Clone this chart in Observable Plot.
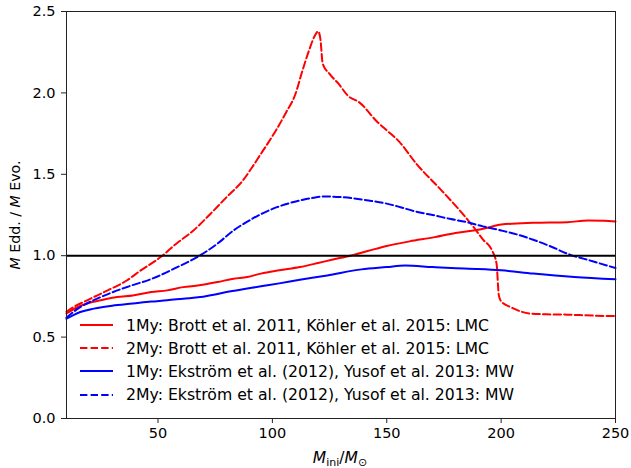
<!DOCTYPE html>
<html>
<head>
<meta charset="utf-8">
<script src="https://cdn.jsdelivr.net/npm/d3@7"></script>
<script src="https://cdn.jsdelivr.net/npm/@observablehq/plot@0.6"></script>
<style>
  body { margin: 0; background: #fff; }
  #wrap { position: relative; width: 631px; height: 468px; font-family: "DejaVu Sans", sans-serif; }
  #legend { position: absolute; left: 80px; top: 313.5px; font-size: 15.7px; color: #000; font-family: "DejaVu Sans"; }
  #legend .row { display: flex; align-items: center; height: 23.2px; white-space: nowrap; }
  #legend svg { margin-right: 13px; flex: none; }
</style>
</head>
<body>
<div id="wrap"></div>
<script>
// 1My: Brott et al. 2011, Köhler et al. 2015: LMC
const lmc1X = [10, 15, 19, 25, 32, 39, 47, 54, 61, 68, 76, 83, 89, 95, 103, 112, 120, 126, 134, 142, 150, 160, 171, 180, 188, 195, 200, 214, 229, 238, 245, 250];
const lmc1Y = [0.645, 0.685, 0.706, 0.726, 0.746, 0.756, 0.777, 0.787, 0.807, 0.818, 0.838, 0.859, 0.869, 0.89, 0.91, 0.93, 0.955, 0.975, 1.0, 1.03, 1.06, 1.088, 1.114, 1.14, 1.155, 1.175, 1.192, 1.202, 1.206, 1.216, 1.215, 1.21];
// 2My: Brott et al. 2011, Köhler et al. 2015: LMC
const lmc2X = [10, 12, 19, 28, 36.5, 42, 51, 58, 65.5, 73, 80, 87, 91, 95, 98, 102, 106, 110, 113, 116, 118.5, 120, 121, 122, 125, 129, 133, 138, 146, 150, 155, 163, 174, 182, 188, 192, 196, 198, 199, 200, 204, 208, 213, 220, 229, 240, 250];
const lmc2Y = [0.655, 0.675, 0.726, 0.787, 0.849, 0.905, 0.99, 1.074, 1.155, 1.258, 1.36, 1.46, 1.54, 1.626, 1.69, 1.78, 1.88, 1.99, 2.13, 2.26, 2.35, 2.378, 2.33, 2.18, 2.117, 2.055, 1.983, 1.942, 1.82, 1.77, 1.707, 1.564, 1.40, 1.277, 1.175, 1.10, 1.033, 0.951, 0.756, 0.72, 0.685, 0.66, 0.644, 0.64, 0.638, 0.632, 0.629];
// 1My: Ekström et al. (2012), Yusof et al. 2013: MW
const mw1X = [10, 13, 16, 22, 30, 39, 47, 54, 61, 68.5, 75, 80, 89, 95, 103, 112, 124, 139, 150, 158, 170, 178, 190, 200, 214, 232, 250];
const mw1Y = [0.613, 0.635, 0.654, 0.675, 0.693, 0.706, 0.718, 0.726, 0.736, 0.746, 0.762, 0.777, 0.798, 0.812, 0.83, 0.852, 0.879, 0.916, 0.93, 0.94, 0.93, 0.924, 0.918, 0.91, 0.89, 0.869, 0.855];
// 2My: Ekström et al. (2012), Yusof et al. 2013: MW
const mw2X = [10, 15, 25, 36.5, 48, 57, 67.5, 76, 83, 90, 96, 102, 108, 113, 118, 123, 130, 142, 150, 156, 163, 171, 178, 185, 192, 200, 207, 214, 222, 229, 240, 250];
const mw2Y = [0.62, 0.675, 0.746, 0.808, 0.862, 0.92, 0.995, 1.074, 1.155, 1.217, 1.262, 1.298, 1.325, 1.342, 1.356, 1.364, 1.36, 1.339, 1.32, 1.298, 1.27, 1.247, 1.225, 1.206, 1.18, 1.155, 1.13, 1.098, 1.055, 1.012, 0.966, 0.924];

const xTicks = [50, 100, 150, 200, 250];
const yTicks = [0, 0.5, 1.0, 1.5, 2.0, 2.5];

const seriesNames = [
  "1My: Brott et al. 2011, Köhler et al. 2015: LMC",
  "2My: Brott et al. 2011, Köhler et al. 2015: LMC",
  "1My: Ekström et al. (2012), Yusof et al. 2013: MW",
  "2My: Ekström et al. (2012), Yusof et al. 2013: MW"
];
const seriesColors = ["#ff0000", "#ff0000", "#0000ff", "#0000ff"];
const seriesDashed = [false, true, false, true];

const toRows = (xs, ys) => xs.map((x, i) => ({x, y: ys[i]}));
const series = [toRows(lmc1X, lmc1Y), toRows(lmc2X, lmc2Y), toRows(mw1X, mw1Y), toRows(mw2X, mw2Y)];
const dash = "7.4,3.2";

const plot = Plot.plot({
  width: 631,
  height: 468,
  marginLeft: 66,
  marginRight: 16,
  marginTop: 11,
  marginBottom: 50,
  style: {fontFamily: "DejaVu Sans", fontSize: "14.5px", color: "#000", background: "#fff"},
  x: {domain: [10, 250]},
  y: {domain: [0, 2.5]},
  marks: [
    Plot.axisX({ticks: xTicks, tickSize: 5, tickPadding: 4, label: null, stroke: "#222"}),
    Plot.axisY({ticks: yTicks, tickSize: 5, tickPadding: 6, label: null, tickFormat: d3.format(".1f"), stroke: "#222"}),
    ...series.map((s, i) => Plot.line(s, {
      x: "x", y: "y",
      curve: "monotone-x",
      stroke: seriesColors[i],
      strokeWidth: 2,
      strokeDasharray: seriesDashed[i] ? dash : null
    })),
    Plot.ruleY([1], {stroke: "#000", strokeWidth: 2}),
    Plot.frame({stroke: "#222", strokeWidth: 1})
  ]
});

const wrap = document.getElementById("wrap");
wrap.appendChild(plot);

// axis labels with italic / subscript parts
const svg = d3.select(plot);
const xl = svg.append("text")
  .attr("x", 340).attr("y", 463)
  .attr("text-anchor", "middle")
  .attr("font-family", "DejaVu Sans").attr("font-size", 15.5).attr("fill", "#000");
xl.append("tspan").attr("font-style", "italic").text("M");
xl.append("tspan").attr("font-size", 11).attr("dy", 3).text("ini");
xl.append("tspan").attr("dy", -3).text("/");
xl.append("tspan").attr("font-style", "italic").text("M");
xl.append("tspan").attr("font-size", 11).attr("dy", 3).text("⊙");

const yl = svg.append("text")
  .attr("transform", "translate(20,215) rotate(-90)")
  .attr("text-anchor", "middle")
  .attr("font-family", "DejaVu Sans").attr("font-size", 14.2).attr("fill", "#000");
yl.append("tspan").attr("font-style", "italic").text("M");
yl.append("tspan").text(" Edd. / ");
yl.append("tspan").attr("font-style", "italic").text("M");
yl.append("tspan").text(" Evo.");

// legend
const legend = document.createElement("div");
legend.id = "legend";
seriesNames.forEach((name, i) => {
  const row = document.createElement("div");
  row.className = "row";
  const sw = d3.create("svg").attr("width", 33).attr("height", 10);
  sw.append("line").attr("x1", 0).attr("x2", 33).attr("y1", 5).attr("y2", 5)
    .attr("stroke", seriesColors[i]).attr("stroke-width", 2)
    .attr("stroke-dasharray", seriesDashed[i] ? dash : null);
  row.appendChild(sw.node());
  const t = document.createElement("span");
  t.textContent = name;
  row.appendChild(t);
  legend.appendChild(row);
});
wrap.appendChild(legend);
</script>
</body>
</html>
